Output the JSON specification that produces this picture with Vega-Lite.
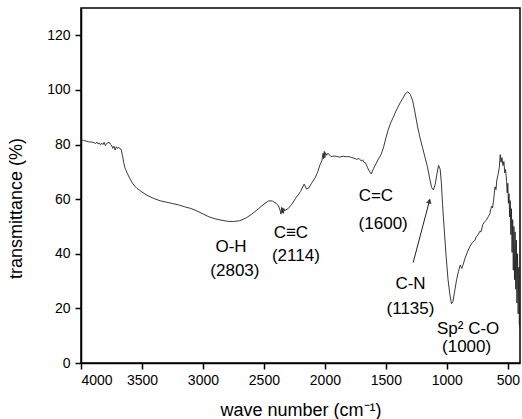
{
  "$schema": "https://vega.github.io/schema/vega-lite/v6.json",
  "width": 439,
  "height": 355,
  "autosize": {"type": "none"},
  "padding": {"left": 81, "top": 8, "right": 2, "bottom": 56},
  "background": "white",
  "config": {
    "font": "Liberation Sans",
    "view": {"stroke": "black", "strokeWidth": 1.5},
    "axis": {
      "grid": false,
      "domainColor": "black",
      "domainWidth": 1.5,
      "tickColor": "black",
      "tickWidth": 1.5,
      "tickSize": 6,
      "labelFont": "Liberation Sans",
      "labelFontSize": 14,
      "labelColor": "black",
      "titleFont": "Liberation Sans",
      "titleFontSize": 18,
      "titleFontWeight": "normal",
      "titleColor": "black"
    }
  },
  "datasets": {
    "spectrum": [
      {"wave": 4000, "T": 81.8}, {"wave": 3980, "T": 81.5}, {"wave": 3960, "T": 81.3}, {"wave": 3940, "T": 81.0},
      {"wave": 3920, "T": 80.9}, {"wave": 3900, "T": 80.8}, {"wave": 3880, "T": 80.4}, {"wave": 3870, "T": 80.9},
      {"wave": 3860, "T": 80.2}, {"wave": 3850, "T": 80.6}, {"wave": 3840, "T": 79.9}, {"wave": 3830, "T": 80.5},
      {"wave": 3820, "T": 80.0}, {"wave": 3810, "T": 80.8}, {"wave": 3800, "T": 79.6}, {"wave": 3790, "T": 80.4},
      {"wave": 3780, "T": 80.6}, {"wave": 3770, "T": 80.9}, {"wave": 3760, "T": 80.2}, {"wave": 3750, "T": 79.8},
      {"wave": 3740, "T": 78.6}, {"wave": 3730, "T": 79.4}, {"wave": 3720, "T": 78.0}, {"wave": 3710, "T": 79.2},
      {"wave": 3700, "T": 78.5}, {"wave": 3690, "T": 79.0}, {"wave": 3680, "T": 78.4}, {"wave": 3670, "T": 78.2},
      {"wave": 3660, "T": 76.0}, {"wave": 3650, "T": 73.5}, {"wave": 3640, "T": 71.5}, {"wave": 3630, "T": 70.5},
      {"wave": 3620, "T": 69.4}, {"wave": 3600, "T": 67.6}, {"wave": 3580, "T": 66.0}, {"wave": 3560, "T": 64.8},
      {"wave": 3540, "T": 63.9}, {"wave": 3520, "T": 63.3}, {"wave": 3500, "T": 62.6}, {"wave": 3450, "T": 61.2},
      {"wave": 3400, "T": 60.2}, {"wave": 3350, "T": 59.4}, {"wave": 3300, "T": 58.9}, {"wave": 3250, "T": 58.4},
      {"wave": 3200, "T": 57.9}, {"wave": 3150, "T": 57.2}, {"wave": 3100, "T": 56.6}, {"wave": 3050, "T": 55.7},
      {"wave": 3000, "T": 54.6}, {"wave": 2950, "T": 53.5}, {"wave": 2900, "T": 52.8}, {"wave": 2850, "T": 52.3},
      {"wave": 2800, "T": 51.9}, {"wave": 2750, "T": 51.8}, {"wave": 2700, "T": 52.1}, {"wave": 2650, "T": 53.0},
      {"wave": 2600, "T": 54.5}, {"wave": 2550, "T": 56.3}, {"wave": 2500, "T": 58.2}, {"wave": 2460, "T": 59.4},
      {"wave": 2430, "T": 59.3}, {"wave": 2400, "T": 58.5}, {"wave": 2380, "T": 57.5}, {"wave": 2370, "T": 56.3},
      {"wave": 2360, "T": 54.5}, {"wave": 2355, "T": 57.0}, {"wave": 2350, "T": 55.0}, {"wave": 2345, "T": 56.8},
      {"wave": 2340, "T": 54.8}, {"wave": 2335, "T": 56.5}, {"wave": 2330, "T": 55.8}, {"wave": 2300, "T": 56.6},
      {"wave": 2270, "T": 58.2}, {"wave": 2240, "T": 60.3}, {"wave": 2200, "T": 62.8}, {"wave": 2170, "T": 65.5},
      {"wave": 2150, "T": 63.7}, {"wave": 2130, "T": 64.2}, {"wave": 2110, "T": 65.8}, {"wave": 2080, "T": 67.8},
      {"wave": 2060, "T": 69.8}, {"wave": 2040, "T": 72.6}, {"wave": 2025, "T": 74.0}, {"wave": 2015, "T": 76.8},
      {"wave": 2010, "T": 74.8}, {"wave": 2005, "T": 77.5}, {"wave": 2000, "T": 75.2}, {"wave": 1995, "T": 77.0},
      {"wave": 1985, "T": 76.1}, {"wave": 1975, "T": 76.8}, {"wave": 1950, "T": 75.6}, {"wave": 1920, "T": 75.8},
      {"wave": 1880, "T": 75.4}, {"wave": 1850, "T": 75.7}, {"wave": 1820, "T": 75.5}, {"wave": 1800, "T": 75.6},
      {"wave": 1780, "T": 75.2}, {"wave": 1760, "T": 75.0}, {"wave": 1740, "T": 74.6}, {"wave": 1720, "T": 74.9},
      {"wave": 1700, "T": 73.9}, {"wave": 1690, "T": 74.4}, {"wave": 1680, "T": 73.5}, {"wave": 1670, "T": 73.4},
      {"wave": 1660, "T": 72.6}, {"wave": 1650, "T": 71.5}, {"wave": 1640, "T": 70.6}, {"wave": 1630, "T": 69.9},
      {"wave": 1620, "T": 69.2}, {"wave": 1600, "T": 71.3}, {"wave": 1580, "T": 73.0}, {"wave": 1560, "T": 74.8},
      {"wave": 1540, "T": 76.3}, {"wave": 1520, "T": 78.8}, {"wave": 1500, "T": 82.4}, {"wave": 1480, "T": 85.5},
      {"wave": 1460, "T": 88.0}, {"wave": 1440, "T": 89.9}, {"wave": 1420, "T": 92.0}, {"wave": 1400, "T": 93.8},
      {"wave": 1380, "T": 95.5}, {"wave": 1360, "T": 97.0}, {"wave": 1340, "T": 98.6}, {"wave": 1320, "T": 99.3},
      {"wave": 1300, "T": 98.4}, {"wave": 1280, "T": 96.0}, {"wave": 1260, "T": 91.5}, {"wave": 1240, "T": 86.5},
      {"wave": 1220, "T": 82.5}, {"wave": 1200, "T": 79.0}, {"wave": 1180, "T": 75.5}, {"wave": 1160, "T": 72.0},
      {"wave": 1140, "T": 67.5}, {"wave": 1125, "T": 64.3}, {"wave": 1110, "T": 63.4}, {"wave": 1095, "T": 65.5},
      {"wave": 1080, "T": 69.5}, {"wave": 1068, "T": 72.4}, {"wave": 1055, "T": 71.0}, {"wave": 1045, "T": 66.0},
      {"wave": 1035, "T": 58.0}, {"wave": 1020, "T": 48.0}, {"wave": 1005, "T": 38.5}, {"wave": 990, "T": 30.5},
      {"wave": 975, "T": 25.0}, {"wave": 962, "T": 21.7}, {"wave": 950, "T": 22.5}, {"wave": 935, "T": 26.5},
      {"wave": 920, "T": 30.5}, {"wave": 905, "T": 33.5}, {"wave": 890, "T": 35.9}, {"wave": 878, "T": 34.6},
      {"wave": 868, "T": 35.8}, {"wave": 850, "T": 38.5}, {"wave": 830, "T": 40.8}, {"wave": 810, "T": 42.7},
      {"wave": 790, "T": 44.2}, {"wave": 770, "T": 44.9}, {"wave": 760, "T": 46.2}, {"wave": 745, "T": 46.8},
      {"wave": 730, "T": 48.2}, {"wave": 720, "T": 48.0}, {"wave": 705, "T": 50.7}, {"wave": 690, "T": 51.7},
      {"wave": 675, "T": 52.4}, {"wave": 660, "T": 53.6}, {"wave": 647, "T": 54.7}, {"wave": 640, "T": 56.2},
      {"wave": 633, "T": 57.4}, {"wave": 625, "T": 56.8}, {"wave": 615, "T": 60.2}, {"wave": 605, "T": 64.5},
      {"wave": 597, "T": 63.5}, {"wave": 590, "T": 67.0}, {"wave": 580, "T": 69.0}, {"wave": 570, "T": 71.5},
      {"wave": 562, "T": 76.3}, {"wave": 555, "T": 73.5}, {"wave": 548, "T": 75.2}, {"wave": 540, "T": 72.3},
      {"wave": 532, "T": 73.8}, {"wave": 525, "T": 69.6}, {"wave": 518, "T": 70.8}, {"wave": 510, "T": 66.5},
      {"wave": 505, "T": 62.3}, {"wave": 500, "T": 65.8}, {"wave": 495, "T": 58.5}, {"wave": 490, "T": 62.0},
      {"wave": 485, "T": 53.5}, {"wave": 480, "T": 59.5}, {"wave": 475, "T": 47.0}, {"wave": 470, "T": 56.5},
      {"wave": 465, "T": 40.5}, {"wave": 460, "T": 52.5}, {"wave": 455, "T": 34.0}, {"wave": 450, "T": 50.0},
      {"wave": 445, "T": 30.5}, {"wave": 440, "T": 48.0}, {"wave": 435, "T": 27.0}, {"wave": 430, "T": 45.0},
      {"wave": 425, "T": 22.0}, {"wave": 420, "T": 40.0}, {"wave": 415, "T": 18.0}, {"wave": 410, "T": 35.0},
      {"wave": 405, "T": 14.0}, {"wave": 402, "T": 22.0}, {"wave": 400, "T": 12.5}
    ],
    "labels": [
      {"wave": 2770, "T": 42.5, "label": "O-H"},
      {"wave": 2738, "T": 33.8, "label": "(2803)"},
      {"wave": 2279, "T": 47.7, "label": "C≡C"},
      {"wave": 2238, "T": 39.3, "label": "(2114)"},
      {"wave": 1582, "T": 61.1, "label": "C=C"},
      {"wave": 1522, "T": 50.8, "label": "(1600)"},
      {"wave": 1298, "T": 29.0, "label": "C-N"},
      {"wave": 1298, "T": 19.9, "label": "(1135)"},
      {"wave": 825, "T": 12.6, "label": "Sp² C-O"},
      {"wave": 838, "T": 5.7, "label": "(1000)"}
    ],
    "arrow": [
      {"wave": 1276, "T": 36.8, "wave2": 1140, "T2": 59.8}
    ],
    "arrowhead": [
      {"wave": 1143, "T": 59.3}
    ]
  },
  "layer": [
    {
      "data": {"name": "spectrum"},
      "mark": {"type": "line", "color": "#222222", "strokeWidth": 0.9, "clip": true},
      "encoding": {
        "x": {
          "field": "wave", "type": "quantitative",
          "scale": {"domain": [400, 4000], "reverse": true, "nice": false, "zero": false},
          "axis": {
            "values": [500, 1000, 1500, 2000, 2500, 3000, 3500, 4000],
            "format": "d",
            "labelPadding": 4,
            "title": "wave number (cm⁻¹)",
            "titleBaseline": "alphabetic",
            "titleY": 52
          }
        },
        "y": {
          "field": "T", "type": "quantitative",
          "scale": {"domain": [0, 130], "nice": false},
          "axis": {
            "values": [0, 20, 40, 60, 80, 100, 120],
            "labelPadding": 5,
            "title": "transmittance (%)",
            "titleBaseline": "alphabetic",
            "titleX": -60,
            "titleY": 200
          }
        }
      }
    },
    {
      "data": {"name": "arrow"},
      "mark": {"type": "rule", "color": "#222222", "strokeWidth": 1},
      "encoding": {
        "x": {"field": "wave", "type": "quantitative"},
        "y": {"field": "T", "type": "quantitative"},
        "x2": {"field": "wave2"},
        "y2": {"field": "T2"}
      }
    },
    {
      "data": {"name": "arrowhead"},
      "mark": {"type": "point", "shape": "triangle-up", "filled": true, "color": "#111111", "size": 35, "angle": 15},
      "encoding": {
        "x": {"field": "wave", "type": "quantitative"},
        "y": {"field": "T", "type": "quantitative"}
      }
    },
    {
      "data": {"name": "labels"},
      "mark": {"type": "text", "font": "Liberation Sans", "fontSize": 17, "color": "black", "align": "center", "baseline": "middle"},
      "encoding": {
        "x": {"field": "wave", "type": "quantitative"},
        "y": {"field": "T", "type": "quantitative"},
        "text": {"field": "label"}
      }
    }
  ]
}
